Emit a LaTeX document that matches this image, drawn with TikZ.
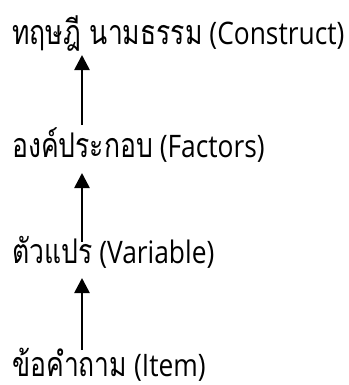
\documentclass[tikz,border=0pt]{standalone}
\usepackage{fontspec}
\newfontfamily\thaifont[Script=Thai,FakeStretch=0.78]{Loma}
\newfontfamily\latfont[FakeStretch=0.85]{Open Sans}
\newcommand{\thtxt}[1]{{\thaifont\fontsize{34bp}{40bp}\selectfont #1}}
\newcommand{\latxt}[1]{{\latfont\fontsize{31bp}{36bp}\selectfont #1}}
\usetikzlibrary{arrows.meta,calc}
\tikzset{
  lbl/.style={anchor=base west, inner sep=0pt},
  arr/.style={line width=2.6bp, -{Triangle[width=15bp,length=15bp]}}
}
\begin{document}
\begin{tikzpicture}[x=1bp,y=1bp]
\useasboundingbox (0,0) rectangle (349,-385);
\node[lbl] (t1) at (12,-44) {\thtxt{ทฤษฎี นามธรรม}\latxt{ (Construct)}};
\node[lbl] (t2) at (12,-157) {\thtxt{องค์ประกอบ}\latxt{ (Factors)}};
\node[lbl] (t3) at (12,-263) {\thtxt{ตัวแปร}\latxt{ (Variable)}};
\node[lbl] (t4) at (12,-376) {\thtxt{ข้อคำถาม}\latxt{ (Item)}};
\coordinate (ax) at (82,0);
\draw[arr] ($(ax |- t2.base)+(0,32)$) -- ($(ax |- t1.base)+(0,-11)$);
\draw[arr] ($(ax |- t3.base)+(0,21)$) -- ($(ax |- t2.base)+(0,-16)$);
\draw[arr] ($(ax |- t4.base)+(0,26)$) -- ($(ax |- t3.base)+(0,-15)$);
\end{tikzpicture}
\end{document}
